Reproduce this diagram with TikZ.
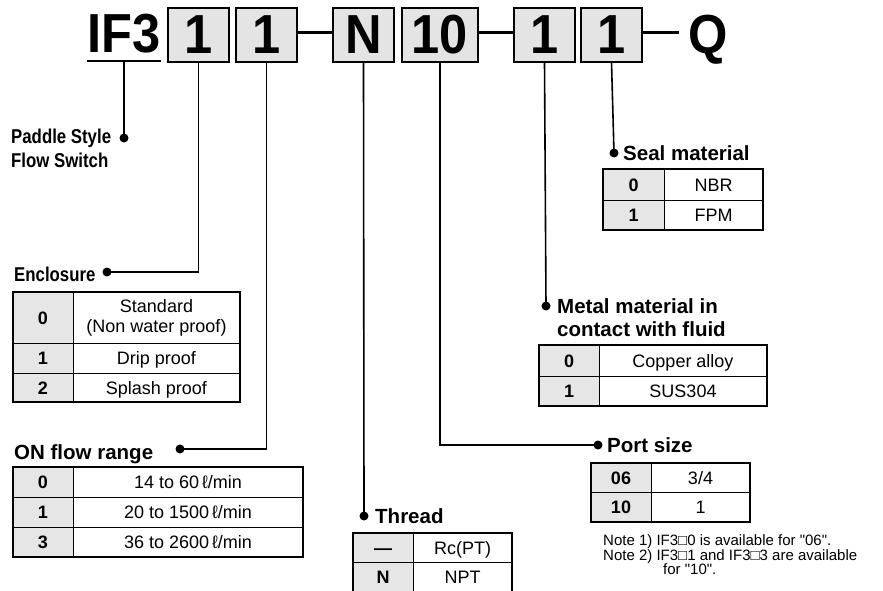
\documentclass[tikz,border=0pt]{standalone}
\usepackage{fontspec}
\setmainfont{Liberation Sans}
\newfontfamily\narrowfont[FakeStretch=0.84]{Liberation Sans}
\newfontfamily\codefamily[FakeStretch=0.92]{Liberation Sans}
\usetikzlibrary{positioning}
\definecolor{boxgray}{HTML}{E4E4E4}
\definecolor{keygray}{HTML}{E6E6E6}
\newcommand{\codefont}{\codefamily\fontsize{55}{55}\selectfont\bfseries}
\newcommand{\cellfont}{\fontsize{18}{20}\selectfont}
\newcommand{\lblfont}{\fontsize{20.5}{23}\selectfont\bfseries}
\newcommand{\narrowlbl}{\narrowfont\fontsize{20}{24}\selectfont\bfseries}
\tikzset{
  codebox/.style={draw, line width=1.5pt, fill=boxgray, minimum width=61pt, minimum height=54pt,
                  inner sep=0pt, outer sep=0pt, font=\codefont, text height=38pt, text depth=0pt},
  codetext/.style={inner sep=0pt, outer sep=0pt, font=\codefont, text height=38pt, text depth=0pt},
  keycell/.style={draw, line width=0.8pt, fill=keygray, minimum width=60pt, inner sep=0pt,
                  outer sep=0pt, font=\cellfont\bfseries, text height=13pt, text depth=0pt},
  valtwo/.style={draw, line width=0.8pt, fill=white, inner sep=0pt, outer sep=0pt,
                 font=\cellfont, align=center},
  valcell/.style={valtwo, text height=13pt, text depth=0pt},
  tblframe/.style={draw, line width=1.4pt},
  lead/.style={draw, line width=1.6pt},
  joint/.style={draw, line width=3pt},
  lbl/.style={inner sep=0pt, font=\lblfont, text height=14.7pt, text depth=0pt},
  lbltwo/.style={inner sep=0pt, font=\lblfont, align=left},
  notetext/.style={inner sep=0pt, font=\fontsize{15}{14.5}\selectfont, align=left}
}
\begin{document}
\begin{tikzpicture}[x=1pt, y=-1pt]
 \useasboundingbox (0,0) rectangle (883,591);
 % model code
 \node[codetext, anchor=base] (IF3) at (124,53) {IF3};
 \node[codebox] (c1) at (198.5,35) {1};
 \node[codebox, right=7pt of c1] (c2) {1};
 \node[codebox, right=36pt of c2] (cN) {N};
 \node[codebox, right=8pt of cN, minimum width=76pt] (c10) {10};
 \node[codebox, right=36pt of c10] (c5) {1};
 \node[codebox, right=6pt of c5] (c6) {1};
 \node[codetext, right=46pt of c6] (Q) {Q};
 \draw[joint] ([yshift=2pt]c2.east) -- ([yshift=2pt]cN.west);
 \draw[joint] ([yshift=2pt]c10.east) -- ([yshift=2pt]c5.west);
 \draw[joint, shorten >=9pt] ([yshift=2pt]c6.east) -- ([yshift=2pt]Q.west);
 \draw[lead] ([yshift=-8pt]IF3.south west) -- ([yshift=-8pt]IF3.south east);

 % end points of the leaders
 \coordinate (dPad) at (124,138);
 \coordinate (dEnc) at (107,272);
 \coordinate (dFlow) at (180,449);
 \coordinate (dThr) at (364,516);
 \coordinate (dPort) at (598,445);
 \coordinate (dMet) at (546,306);
 \coordinate (dSeal) at (614,153);
 \draw[lead] ([yshift=-8pt]IF3.south) -- (dPad);
 \draw[lead] (c1.south) |- (dEnc);
 \draw[lead] (c2.south) |- (dFlow);
 \draw[lead] (cN.south) -- (dThr);
 \draw[lead] (c10.south) |- (dPort);
 \draw[lead] (c5.south) -- (dMet);
 \draw[lead] (c6.south) -- (dSeal);
 \foreach \d in {dPad,dEnc,dFlow,dThr,dPort,dMet,dSeal} \fill (\d) circle (4.5pt);

 % labels
 \node[lbltwo, font=\narrowlbl, anchor=north west] (pad) at (11,129) {Paddle Style\\Flow Switch};
 \node[lbl, font=\narrowlbl, anchor=base west] (enc) at (14,281.5) {Enclosure};
 \node[lbl, anchor=base west] (flow) at (14,459) {ON flow range};
 \node[lbl, right=11pt of dThr] (thr) {Thread};
 \node[lbl, right=9pt of dSeal] (seal) {Seal material};
 \node[lbl, right=9pt of dPort] (port) {Port size};
 \node[lbltwo, anchor=north west] (met) at (557,298) {Metal material in\\contact with fluid};

 % enclosure
 \node[keycell, anchor=north west, minimum height=51pt] (enc0) at (13,292) {0};
 \node[valtwo, right=0pt of enc0, minimum width=167pt, minimum height=51pt] (enc0v) {Standard\\(Non water proof)};
 \node[keycell, below=0pt of enc0, minimum height=30pt] (enc1) {1};
 \node[valcell, right=0pt of enc1, minimum width=167pt, minimum height=30pt] (enc1v) {Drip proof};
 \node[keycell, below=0pt of enc1, minimum height=29pt] (enc2) {2};
 \node[valcell, right=0pt of enc2, minimum width=167pt, minimum height=29pt] (enc2v) {Splash proof};
 \draw[tblframe] (enc0.north west) rectangle (enc2v.south east);

 % ON flow range
 \node[keycell, anchor=north west, minimum height=30pt] (flow0) at (13,467) {0};
 \node[valcell, right=0pt of flow0, minimum width=230pt, minimum height=30pt] (flow0v) {14 to 60\,ℓ/min};
 \node[keycell, below=0pt of flow0, minimum height=30pt] (flow1) {1};
 \node[valcell, right=0pt of flow1, minimum width=230pt, minimum height=30pt] (flow1v) {20 to 1500\,ℓ/min};
 \node[keycell, below=0pt of flow1, minimum height=30pt] (flow3) {3};
 \node[valcell, right=0pt of flow3, minimum width=230pt, minimum height=30pt] (flow3v) {36 to 2600\,ℓ/min};
 \draw[tblframe] (flow0.north west) rectangle (flow3v.south east);

 % thread
 \node[keycell, anchor=north west, minimum height=29pt] (thr0) at (353,533) {—};
 \node[valcell, right=0pt of thr0, minimum width=99pt, minimum height=29pt] (thr0v) {Rc(PT)};
 \node[keycell, below=0pt of thr0, minimum height=30pt] (thrN) {N};
 \node[valcell, right=0pt of thrN, minimum width=99pt, minimum height=30pt] (thrNv) {NPT};
 \draw[tblframe] (thr0.north west) rectangle (thrNv.south east);

 % seal material
 \node[keycell, anchor=north west, minimum width=61pt, minimum height=31pt] (seal0) at (603,169) {0};
 \node[valcell, right=0pt of seal0, minimum width=99pt, minimum height=31pt] (seal0v) {NBR};
 \node[keycell, below=0pt of seal0, minimum width=61pt, minimum height=30pt] (seal1) {1};
 \node[valcell, right=0pt of seal1, minimum width=99pt, minimum height=30pt] (seal1v) {FPM};
 \draw[tblframe] (seal0.north west) rectangle (seal1v.south east);

 % metal material
 \node[keycell, anchor=north west, minimum height=31pt] (met0) at (539,345) {0};
 \node[valcell, right=0pt of met0, minimum width=168pt, minimum height=31pt] (met0v) {Copper alloy};
 \node[keycell, below=0pt of met0, minimum height=30pt] (met1) {1};
 \node[valcell, right=0pt of met1, minimum width=168pt, minimum height=30pt] (met1v) {SUS304};
 \draw[tblframe] (met0.north west) rectangle (met1v.south east);

 % port size
 \node[keycell, anchor=north west, minimum height=29pt] (port06) at (591,463) {06};
 \node[valcell, right=0pt of port06, minimum width=99pt, minimum height=29pt] (port06v) {3/4};
 \node[keycell, below=0pt of port06, minimum height=30pt] (port10) {10};
 \node[valcell, right=0pt of port10, minimum width=99pt, minimum height=30pt] (port10v) {1};
 \draw[tblframe] (port06.north west) rectangle (port10v.south east);
 \node[notetext, anchor=north west] (notes) at (603,534.5) {Note 1) IF3□0 is available for \textquotedbl06\textquotedbl.\\Note 2) IF3□1 and IF3□3 are available\\\hspace*{60pt}for \textquotedbl10\textquotedbl.};
\end{tikzpicture}
\end{document}
